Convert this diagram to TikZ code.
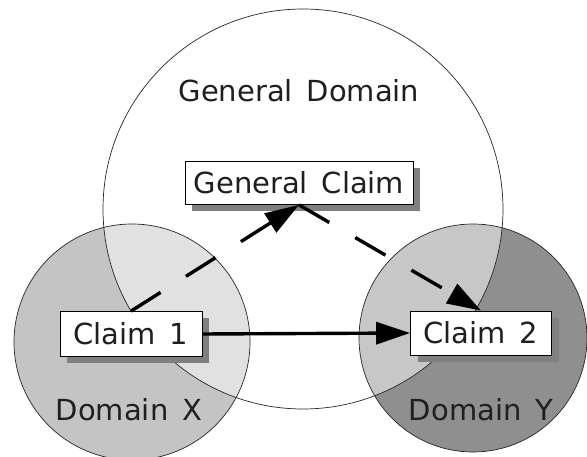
\documentclass[tikz,border=0pt]{standalone}
\usepackage{fontspec}
\setmainfont{DejaVu Sans}[WordSpace=1.5]
\usetikzlibrary{arrows.meta,shadows}
\begin{document}
\begin{tikzpicture}[x=1pt,y=-1pt,
  circborder/.style={draw=black!85,line width=0.7pt},
  claimbox/.style={draw=black,line width=0.8pt,fill=white,inner sep=2pt,
    font=\fontsize{29}{34}\selectfont,text=black!88,
    drop shadow={shadow xshift=7pt,shadow yshift=-7pt,fill=black!50,opacity=1}},
  domlabel/.style={font=\fontsize{29}{34}\selectfont,text=black!88},
  dasharrow/.style={line width=3.4pt,dash pattern=on 35pt off 30pt,
    -{Triangle[length=34pt,width=22pt]}},
  solidarrow/.style={line width=3.4pt,-{Triangle[length=34pt,width=22pt]}}]
\useasboundingbox (0,0) rectangle (587,457);
\fill[white] (0,0) rectangle (587,457);
% domain circles
\fill[black!23] (132,342) circle (118);
\fill[black!44] (473,338) circle (114);
\fill[white,opacity=0.5] (303,209) circle (200);
\draw[circborder] (132,342) circle (118);
\draw[circborder] (473,338) circle (114);
\draw[circborder] (303,209) circle (200);
% labels
\node[domlabel] (gd) at (299,91) {General Domain};
\node[domlabel] (dx) at (129,410) {Domain X};
\node[domlabel] (dy) at (481,410) {Domain Y};
% claim boxes
\node[claimbox,minimum width=228,minimum height=43] (gc) at (299,183) {General Claim};
\node[claimbox,minimum width=142,minimum height=45] (c1) at (131,334) {Claim 1};
\node[claimbox,minimum width=141,minimum height=44] (c2) at (481,333) {Claim 2};
% arrows
\draw[dasharrow] (c1.north) -- (gc.south);
\draw[dasharrow] (gc.south) -- (c2.north);
\draw[solidarrow] (c1.east) -- (c2.west);
\end{tikzpicture}
\end{document}
